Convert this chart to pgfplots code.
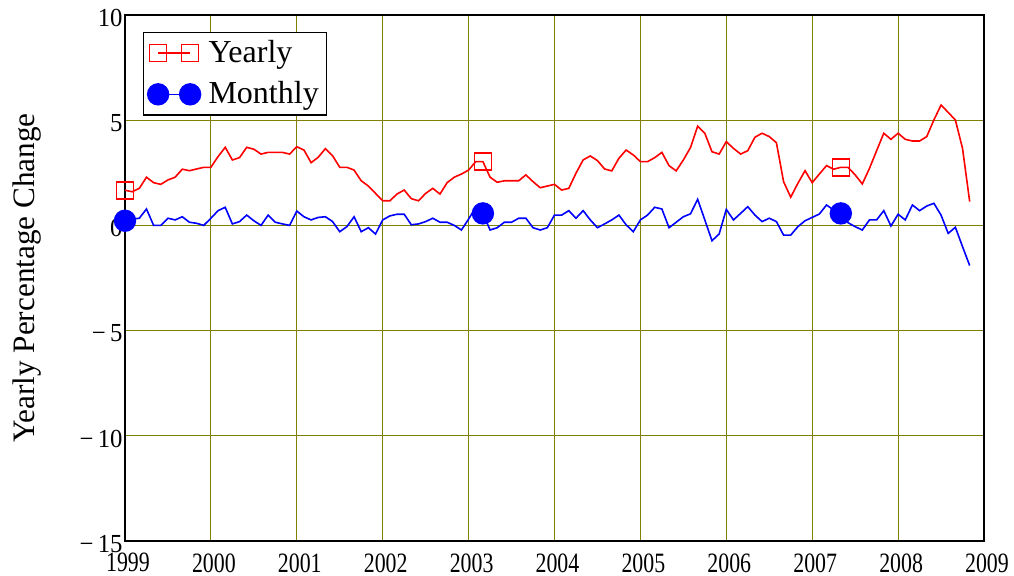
\documentclass[border=0pt]{standalone}
\usepackage{fontspec}
\setmainfont{Liberation Serif}
\newfontfamily\xtickfont[FakeStretch=0.78]{Liberation Serif}
\newfontfamily\ytickfont[FakeStretch=0.95]{Liberation Serif}
\usepackage{pgfplots}
\usepackage{pgfplotstable}
\pgfplotsset{compat=1.18}

\pgfplotstableread{
m yearly monthly
0 1.67 0.22
1 1.60 0.30
2 1.76 0.34
3 2.29 0.78
4 2.03 0.00
5 1.95 0.00
6 2.16 0.34
7 2.29 0.26
8 2.67 0.41
9 2.60 0.15
10 2.68 0.10
11 2.76 0.00
12 2.76 0.34
13 3.27 0.70
14 3.71 0.86
15 3.11 0.07
16 3.22 0.18
17 3.71 0.49
18 3.62 0.22
19 3.39 0.00
20 3.47 0.49
21 3.47 0.15
22 3.47 0.07
23 3.39 0.00
24 3.74 0.68
25 3.58 0.41
26 2.98 0.26
27 3.24 0.38
28 3.65 0.41
29 3.31 0.18
30 2.76 -0.30
31 2.76 -0.06
32 2.63 0.41
33 2.12 -0.30
34 1.87 -0.11
35 1.52 -0.41
36 1.17 0.26
37 1.17 0.45
38 1.49 0.53
39 1.68 0.53
40 1.27 0.03
41 1.17 0.07
42 1.52 0.18
43 1.76 0.34
44 1.49 0.15
45 2.03 0.15
46 2.29 0.00
47 2.44 -0.22
48 2.63 0.30
49 3.03 0.86
50 3.03 0.57
51 2.29 -0.22
52 2.05 -0.11
53 2.12 0.15
54 2.12 0.15
55 2.12 0.34
56 2.40 0.34
57 2.08 -0.11
58 1.79 -0.22
59 1.87 -0.11
60 1.95 0.49
61 1.68 0.49
62 1.76 0.70
63 2.48 0.34
64 3.11 0.70
65 3.30 0.26
66 3.08 -0.11
67 2.68 0.07
68 2.59 0.26
69 3.19 0.49
70 3.58 0.03
71 3.35 -0.30
72 3.03 0.26
73 3.03 0.49
74 3.22 0.86
75 3.47 0.78
76 2.84 -0.11
77 2.59 0.15
78 3.11 0.41
79 3.70 0.55
80 4.72 1.24
81 4.38 0.26
82 3.50 -0.73
83 3.39 -0.41
84 3.98 0.76
85 3.66 0.26
86 3.39 0.57
87 3.55 0.89
88 4.19 0.49
89 4.38 0.18
90 4.22 0.34
91 3.93 0.18
92 2.08 -0.46
93 1.34 -0.46
94 2.00 -0.06
95 2.60 0.22
96 2.03 0.38
97 2.44 0.54
98 2.84 0.97
99 2.67 0.73
100 2.76 0.57
101 2.76 0.13
102 2.40 -0.06
103 1.97 -0.22
104 2.71 0.26
105 3.55 0.26
106 4.38 0.70
107 4.09 -0.03
108 4.38 0.53
109 4.09 0.26
110 4.01 0.97
111 4.01 0.70
112 4.22 0.92
113 5.01 1.05
114 5.72 0.49
115 5.37 -0.38
116 5.01 -0.09
117 3.66 -1.01
118 1.13 -1.91
}\datatable

\definecolor{gridolive}{RGB}{128,128,0}

\begin{document}
\begin{tikzpicture}
\useasboundingbox (0,0) rectangle (507pt,288pt);
\begin{axis}[
  at={(62.5pt,17.5pt)}, anchor=south west,
  scale only axis,
  width=429.5pt, height=263pt,
  xmin=0, xmax=120, ymin=-15, ymax=10,
  xtick={0,12,...,120},
  xticklabels={1999,2000,2001,2002,2003,2004,2005,2006,2007,2008,2009},
  ytick={-15,-10,-5,0,5,10},
  yticklabels={−\,15,−\,10,−\,5,0,5,10},
  major tick length=0pt,
  grid=major,
  major grid style={gridolive, line width=0.6pt},
  axis line style={black, line width=0.8pt},
  xticklabel style={font=\xtickfont\fontsize{14}{16}\selectfont, anchor=north, inner sep=0pt, yshift=-6pt, xshift=1.5pt},
  yticklabel style={font=\ytickfont\fontsize{13}{15}\selectfont, anchor=east, inner sep=0pt, xshift=-1pt, yshift=-1.5pt},
  ylabel={Yearly Percentage Change},
  ylabel style={at={(axis description cs:-0.1059,0.5)}, anchor=base, rotate=0, font=\fontsize{15.6}{18}\selectfont},
  legend style={at={(axis description cs:0.021,0.968)}, anchor=north west,
    draw=black, line width=0.7pt, fill=white,
    font=\fontsize{16}{18}\selectfont,
    inner xsep=2pt, inner ysep=2pt, row sep=4pt, column sep=2pt,
    cells={anchor=west}},
  legend image code/.code={%
    \draw[#1] (0pt,0pt) -- (16pt,0pt);
    \draw[#1] plot[only marks] coordinates {(0pt,0pt)};
    \draw[#1] plot[only marks] coordinates {(16pt,0pt)};},
]
\addplot[red, line width=0.8pt, mark=square, mark size=4.25pt, mark repeat=50,
  mark options={solid, line width=0.8pt}] table[x=m, y=yearly] {\datatable};
\addlegendentry{Yearly}
\addplot[blue, line width=0.8pt, mark=*, mark size=5.2pt, mark repeat=50,
  mark options={solid, fill=blue}] table[x=m, y=monthly] {\datatable};
\addlegendentry{Monthly}
\end{axis}
\end{tikzpicture}
\end{document}
